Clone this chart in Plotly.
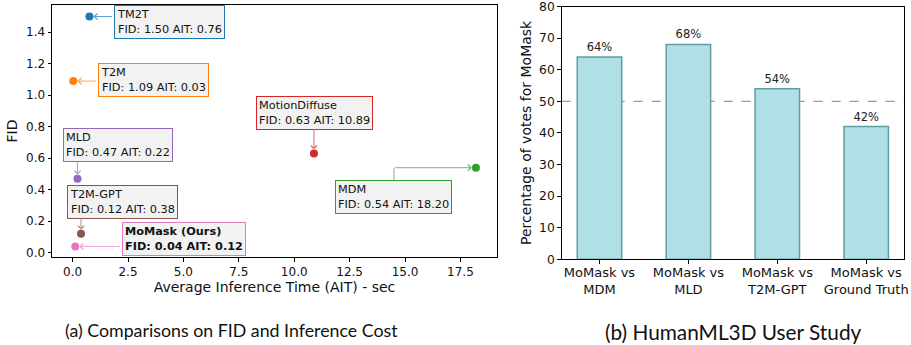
import plotly.graph_objects as go

# ---- data ----
models = ["TM2T", "T2M", "MotionDiffuse", "MLD", "T2M-GPT", "MoMask (Ours)", "MDM"]
ait = [0.76, 0.03, 10.89, 0.22, 0.38, 0.12, 18.20]
fid = [1.50, 1.09, 0.63, 0.47, 0.12, 0.04, 0.54]

study_labels = ["MoMask vs<br>MDM", "MoMask vs<br>MLD", "MoMask vs<br>T2M-GPT", "MoMask vs<br>Ground Truth"]
study_votes = [64, 68, 54, 42]

# ---- styles ----
colors = {"TM2T": "#1f77b4", "T2M": "#ff7f0e", "MDM": "#2ca02c", "MotionDiffuse": "#d62728",
          "MLD": "#9467bd", "T2M-GPT": "#8c564b", "MoMask (Ours)": "#e377c2"}
arrow_colors = {"TM2T": "#5fa0cf", "T2M": "#ffa55a", "MDM": "#6cc06c", "MotionDiffuse": "#e26a6b",
                "MLD": "#b49ad3", "T2M-GPT": "#ae8c85", "MoMask (Ours)": "#eda3d8"}
# label box offset (px, relative to point; +dy = down) and arrow tail offset
box_off = {"TM2T": (80, 6), "T2M": (80, -1), "MotionDiffuse": (1, -41), "MLD": (41, -34),
           "T2M-GPT": (41, -32), "MoMask (Ours)": (109, -7), "MDM": (-82, 29)}
tail_off = {"TM2T": (24, 0), "T2M": (24, 0), "MotionDiffuse": (0, -26), "MLD": (0, -18),
            "T2M-GPT": (0, -17), "MoMask (Ours)": (46, 0), "MDM": (-82, 0)}

FONT = "DejaVu Sans"
W, H = 911, 345

fig = go.Figure()

for m, a, f in zip(models, ait, fid):
    fig.add_trace(go.Scatter(x=[a], y=[f], mode="markers", xaxis="x", yaxis="y",
                             marker=dict(color=colors[m], size=8), showlegend=False, name=m,
                             cliponaxis=False))

fig.add_trace(go.Bar(x=study_labels, y=study_votes, xaxis="x2", yaxis="y2", width=0.5,
                     marker=dict(color="#b0e0e6", line=dict(color="#5f9ea0", width=1.5)),
                     text=[f"{v}%" for v in study_votes], textposition="outside",
                     textfont=dict(family=FONT, size=11.5, color="#222"),
                     cliponaxis=False, showlegend=False))

annotations = []
for m, a, f in zip(models, ait, fid):
    bx, by = box_off[m]
    label = f"{m}<br>FID: {f:.2f} AIT: {a:.2f}"
    if m.startswith("MoMask"):
        label = f"<b>{m}</b><br><b>FID: {f:.2f} AIT: {a:.2f}</b>"
    annotations.append(dict(x=a, y=f, xref="x", yref="y", text=label, showarrow=(m == "MDM"),
                            arrowhead=0, arrowwidth=1, arrowcolor=arrow_colors[m],
                            ax=0, ay=by if m == "MDM" else 0,
                            xshift=bx, yshift=(0 if m == "MDM" else -by),
                            xanchor="center", yanchor="middle", align="left",
                            font=dict(family=FONT, size=11.3, color="#111"),
                            bgcolor="#f2f2f2", bordercolor=colors[m], borderwidth=1, borderpad=2))
    tx, ty = tail_off[m]
    annotations.append(dict(x=a, y=f, xref="x", yref="y", text="", showarrow=True,
                            ax=tx, ay=ty, arrowhead=4, arrowsize=1.2, arrowwidth=1,
                            arrowcolor=arrow_colors[m], standoff=4))

annotations.append(dict(x=231 / W, y=1 - 330 / H, xref="paper", yref="paper", xanchor="center",
                        yanchor="middle", text="(a) Comparisons on FID and Inference Cost",
                        showarrow=False, font=dict(family="Lato", size=17.8, color="#111")))
annotations.append(dict(x=733 / W, y=1 - 331 / H, xref="paper", yref="paper", xanchor="center",
                        yanchor="middle", text="(b) HumanML3D User Study",
                        showarrow=False, font=dict(family="Lato", size=20.8, color="#111")))

axis_common = dict(showline=True, linecolor="black", linewidth=1, mirror=True, ticks="outside",
                   ticklen=3.5, tickcolor="black", showgrid=False, zeroline=False, automargin=False,
                   ticklabeloverflow="allow",
                   tickfont=dict(family=FONT, size=12, color="#111"))

fig.update_layout(
    width=W, height=H, margin=dict(l=0, r=0, t=0, b=0, autoexpand=False),
    paper_bgcolor="white", plot_bgcolor="white",
    xaxis=dict(domain=[52 / W, 497 / W], anchor="y", range=[-0.93, 19.15],
               tickvals=[0, 2.5, 5, 7.5, 10, 12.5, 15, 17.5], tickformat=".1f",
               title=dict(text="Average Inference Time (AIT) - sec", standoff=2,
                          font=dict(family=FONT, size=14, color="#111")), **axis_common),
    yaxis=dict(domain=[1 - 257 / H, 1 - 5 / H], anchor="x", range=[-0.027, 1.573],
               tickvals=[0, 0.2, 0.4, 0.6, 0.8, 1.0, 1.2, 1.4], tickformat=".1f",
               title=dict(text="FID", standoff=5, font=dict(family=FONT, size=14, color="#111")),
               **axis_common),
    xaxis2=dict(domain=[561.7 / W, 904 / W], anchor="y2", range=[-0.425, 3.425], type="category",
                title=None, ticklabelstandoff=-2,
                **{**axis_common, "tickfont": dict(family=FONT, size=13, color="#111")}),
    yaxis2=dict(domain=[1 - 259.3 / H, 1 - 6.5 / H], anchor="x2", range=[0, 80], dtick=10,
                title=dict(text="Percentage of votes for MoMask", standoff=4,
                           font=dict(family=FONT, size=14, color="#111")),
                **{**axis_common, "tickfont": dict(family=FONT, size=12.3, color="#111")}),
    shapes=[dict(type="line", xref="x2 domain", yref="y2", x0=0, x1=1, y0=50, y1=50,
                 line=dict(color="gray", width=1, dash="dash"), layer="below")],
    annotations=annotations,
)

fig.write_html("out.html", config={"displayModeBar": False},
               post_script="document.body.style.margin='0';document.body.style.overflow='hidden';")
